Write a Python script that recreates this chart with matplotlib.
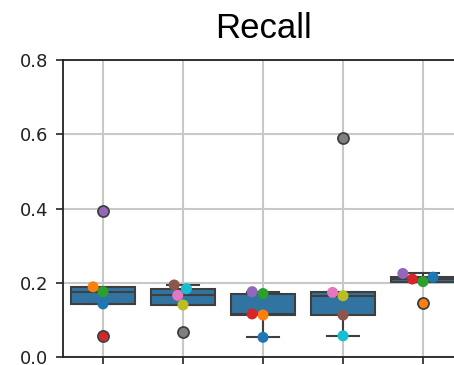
import numpy as np
import matplotlib
matplotlib.use("Agg")
import matplotlib.pyplot as plt

# recall per run, one list per model (same run order in every list)
models = ["m1", "m2", "m3", "m4", "m5"]
recall_m1 = [0.143, 0.189, 0.176, 0.057, 0.393]
recall_m2 = [0.194, 0.166, 0.066, 0.140, 0.184]
recall_m3 = [0.053, 0.113, 0.171, 0.116, 0.176]
recall_m4 = [0.113, 0.174, 0.589, 0.165, 0.057]
recall_m5 = [0.215, 0.145, 0.203, 0.210, 0.225]
# tab10 colour index of each run
run_colors_m1 = [0, 1, 2, 3, 4]
run_colors_m2 = [5, 6, 7, 8, 9]
run_colors_m3 = [0, 1, 2, 3, 4]
run_colors_m4 = [5, 6, 7, 8, 9]
run_colors_m5 = [0, 1, 2, 3, 4]
yticks = [0.0, 0.2, 0.4, 0.6, 0.8]

data = [recall_m1, recall_m2, recall_m3, recall_m4, recall_m5]
run_colors = [run_colors_m1, run_colors_m2, run_colors_m3, run_colors_m4, run_colors_m5]
palette = plt.get_cmap("tab10").colors

box_color = "#3274a1"
line_color = "#3f3f3f"
marker_px = 11.0

fig = plt.figure(figsize=(4.54, 3.65), dpi=100)
ax = fig.add_axes([63 / 454, 8 / 365, 400 / 454, 297 / 365])

pos = np.arange(len(models))
ax.set_xlim(-0.5, len(models) - 0.5)
ax.set_ylim(0, 0.8)

line_kw = dict(color=line_color, linewidth=1.5)
ax.boxplot(data, positions=pos, widths=0.8, patch_artist=True,
           boxprops=dict(facecolor=box_color, edgecolor=line_color, linewidth=1.5),
           medianprops=line_kw, whiskerprops=line_kw, capprops=line_kw,
           flierprops=dict(marker="o", markersize=marker_px * 72 / 100,
                           markerfacecolor="none", markeredgecolor=line_color,
                           markeredgewidth=1.3),
           zorder=2)
# fliers go above the swarm points
for ln in ax.lines:
    if ln.get_marker() == "o":
        ln.set_zorder(4)


def swarm_x(x0, values):
    # simple beeswarm in pixel space, points placed from low to high value
    pts = ax.transData.transform(np.column_stack([np.full(len(values), x0), values]))
    order = np.argsort(pts[:, 1])
    placed = []
    out_px = np.zeros(len(values))
    for i in order:
        cx, cy = pts[i]
        cands = [cx]
        for px, py in placed:
            dy = abs(py - cy)
            if dy < marker_px:
                dx = np.sqrt(marker_px ** 2 - dy ** 2)
                cands += [px - dx, px + dx]
        cands = sorted(cands, key=lambda c: (round(abs(c - cx), 6), c))
        for c in cands:
            if all(np.hypot(c - px, cy - py) >= marker_px - 1e-6 for px, py in placed):
                break
        placed.append((c, cy))
        out_px[i] = c
    back = ax.transData.inverted().transform(np.column_stack([out_px, pts[:, 1]]))
    return back[:, 0]


for x0, vals, cidx in zip(pos, data, run_colors):
    xs = swarm_x(x0, vals)
    ax.scatter(xs, vals, s=(marker_px * 72 / 100) ** 2, c=[palette[k] for k in cidx],
               linewidths=0, zorder=3)

ax.set_xticks(pos)
ax.set_xticklabels([""] * len(models))
ax.set_yticks(yticks)
ax.grid(True, color="#c8c8c8", linewidth=1.5)
ax.set_axisbelow(True)
ax.tick_params(length=5, width=1.2, pad=5.5, labelsize=13, color="#222222",
               labelcolor="#222222")
for sp in ax.spines.values():
    sp.set_linewidth(1.3)
    sp.set_color("#222222")

ax.set_title("Recall", fontsize=25, pad=15.5, family="Liberation Sans")

fig.savefig("out.png", dpi=100)
